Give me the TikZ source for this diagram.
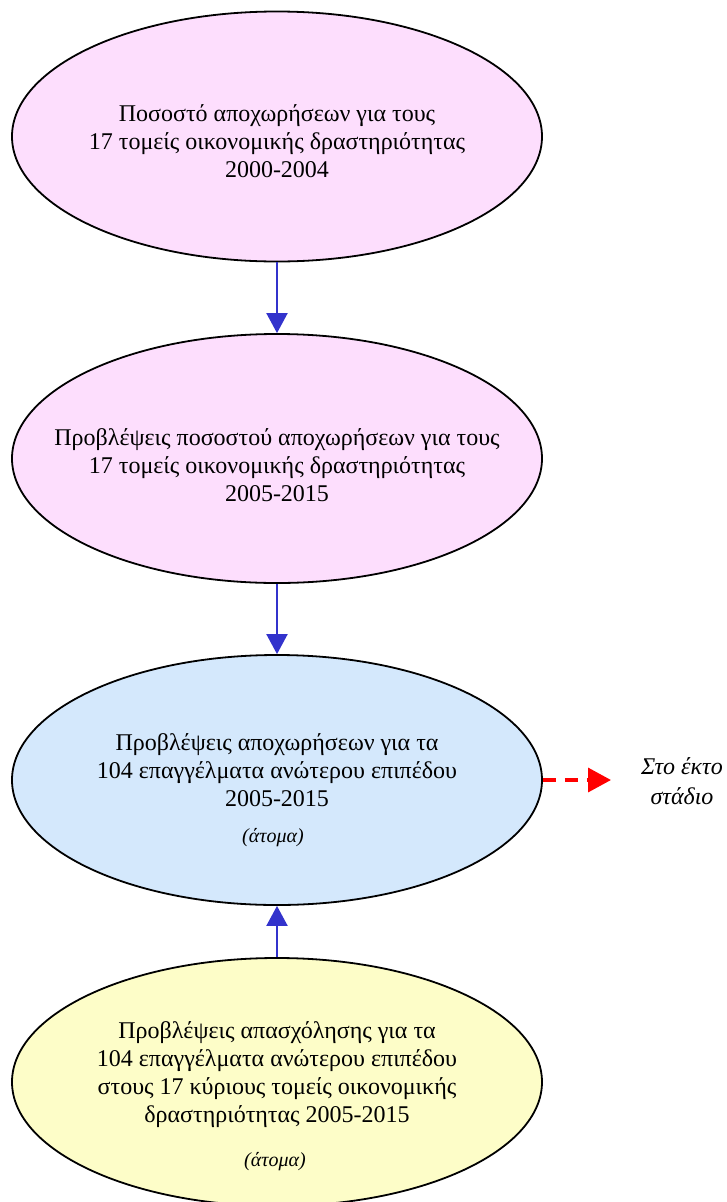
\documentclass[tikz,border=0pt]{standalone}
\usepackage{fontspec}
\setmainfont{Liberation Serif}
\usetikzlibrary{arrows.meta,shapes.geometric}
\definecolor{pinkfill}{RGB}{253,222,253}
\definecolor{bluefill}{RGB}{212,232,252}
\definecolor{yellowfill}{RGB}{253,253,200}
\definecolor{arrowblue}{RGB}{51,51,204}
\begin{document}
\begin{tikzpicture}[x=1pt,y=-1pt,
  oval/.style={ellipse,draw=black,line width=1.8pt,minimum width=530pt,minimum height=250pt,inner sep=0pt},
  lbl/.style={align=center,font=\fontsize{24}{28}\selectfont},
  sml/.style={font=\fontsize{20}{24}\selectfont\itshape},
  conn/.style={draw=arrowblue,line width=2pt,-{Triangle[length=20pt,width=21pt]}},
  redconn/.style={draw=red,line width=3.5pt,dash pattern=on 13pt off 9pt,-{Triangle[length=23pt,width=24pt]}}]
\useasboundingbox (0,0) rectangle (727,1202);
\node[oval,fill=pinkfill] (e1) at (277,136.5) {};
\node[oval,fill=pinkfill,minimum height=249pt] (e2) at (277,458.5) {};
\node[oval,fill=bluefill] (e3) at (277,780) {};
\node[oval,fill=yellowfill,minimum height=248pt] (e4) at (277,1082) {};
\node[lbl] (t1) at (277,141) {Ποσοστό αποχωρήσεων για τους\\17 τομείς οικονομικής δραστηριότητας\\2000-2004};
\node[lbl] (t2) at (277,465) {Προβλέψεις ποσοστού αποχωρήσεων για τους\\17 τομείς οικονομικής δραστηριότητας\\2005-2015};
\node[lbl] (t3) at (277,770) {Προβλέψεις αποχωρήσεων για τα\\104 επαγγέλματα ανώτερου επιπέδου\\2005-2015};
\node[sml] (a3) at (273,838) {(άτομα)};
\node[lbl] (t4) at (277,1075) {Προβλέψεις απασχόλησης για τα\\104 επαγγέλματα ανώτερου επιπέδου\\στους 17 κύριους τομείς οικονομικής\\δραστηριότητας 2005-2015};
\node[sml] (a4) at (275,1162) {(άτομα)};
\node[lbl,font=\fontsize{24}{30}\selectfont\itshape] (st) at (682,781) {Στο έκτο\\στάδιο};
\coordinate (redend) at (611,780);
\draw[conn] (e1.south) -- (e2.north);
\draw[conn] (e2.south) -- (e3.north);
\draw[conn] (e4.north) -- (e3.south);
\draw[redconn] (e3.east) -- (redend);
\end{tikzpicture}
\end{document}
